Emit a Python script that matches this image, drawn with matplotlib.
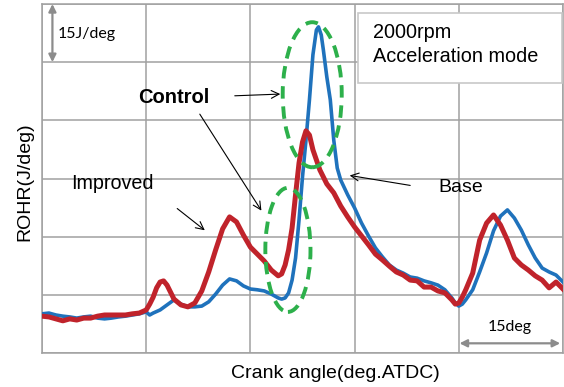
import matplotlib
matplotlib.use("Agg")
import matplotlib.pyplot as plt
from matplotlib.patches import Ellipse, FancyBboxPatch

plt.rcParams['font.family'] = ['Liberation Sans', 'DejaVu Sans']

# Rate of heat release traces (crank angle in deg ATDC, ROHR in J/deg)
improved_angle = [-30, -29, -28, -27, -26, -25, -24, -23, -22, -21, -20, -19, -18, -17, -16, -15,
                  -14.5, -14, -13.5, -13, -12.5, -12, -11.5, -11, -10, -9, -8, -7, -6, -5, -4, -3,
                  -2, -1, 0, 1, 2, 3, 4, 4.5, 5, 5.5, 6, 6.5, 7, 7.5, 8, 8.5, 9, 10, 11, 12, 13,
                  14, 15, 16, 17, 18, 19, 20, 21, 22, 23, 24, 25, 26, 27, 28, 29, 29.5, 30, 30.5,
                  31, 32, 33, 34, 35, 36, 37, 38, 39, 40, 41, 42, 43, 44, 45]
improved_rohr = [9.5, 9.3, 8.8, 8.3, 8.8, 8.5, 9.0, 9.0, 9.5, 9.8, 9.8, 9.8, 9.8, 10.1, 10.3, 11.1,
                 12.6, 14.4, 16.8, 18.3, 18.6, 17.5, 15.7, 13.9, 12.4, 11.9, 12.9, 16.0, 20.9, 26.6,
                 32.0, 35.1, 33.8, 30.4, 27.3, 25.5, 23.7, 21.4, 19.9, 20.4, 22.7, 26.6, 32.2, 40.8,
                 49.0, 54.4, 57.3, 56.2, 52.4, 47.2, 43.6, 41.3, 37.9, 35.1, 32.5, 30.2, 27.9, 25.5,
                 24.0, 22.4, 20.9, 20.1, 18.8, 18.6, 17.0, 17.0, 16.0, 15.5, 13.7, 12.6, 12.9, 14.4,
                 16.3, 20.6, 29.1, 33.5, 35.6, 33.0, 29.1, 24.5, 22.7, 21.4, 19.9, 18.8, 16.8, 18.3, 16.5]

base_angle = [-30, -29, -28, -27, -26, -25, -24, -23, -22, -21, -20, -19, -18, -17, -16, -15,
              -14.5, -14, -13, -12, -11, -10, -9, -8, -7, -6, -5, -4, -3, -2, -1, 0, 1, 2, 3, 4,
              4.5, 5, 5.5, 6, 6.5, 7, 7.5, 8, 8.5, 9, 9.5, 9.8, 10.2, 10.5, 11, 11.5, 12, 12.5,
              13, 14, 15, 16, 17, 18, 19, 20, 21, 22, 23, 24, 25, 26, 27, 28, 29, 29.5, 30, 30.5,
              31, 32, 33, 34, 35, 36, 37, 38, 39, 40, 41, 42, 43, 44, 45]
base_rohr = [10.1, 10.3, 9.8, 9.5, 9.3, 9.0, 9.3, 9.5, 9.0, 8.8, 9.0, 9.3, 9.5, 9.8, 10.1, 10.6,
             9.8, 10.3, 11.1, 12.4, 13.7, 12.6, 11.9, 11.9, 12.1, 13.2, 15.2, 17.5, 19.1, 18.6,
             17.3, 16.5, 16.3, 16.0, 15.2, 14.2, 13.9, 14.2, 15.5, 18.8, 24.5, 34.3, 45.4, 54.9,
             65.3, 76.9, 83.3, 84.1, 82.0, 78.2, 71.2, 65.3, 54.9, 47.7, 44.6, 40.8, 37.4, 33.5,
             30.2, 27.1, 24.8, 22.7, 21.4, 20.6, 19.6, 19.3, 18.6, 18.1, 17.5, 16.3, 14.2, 12.9,
             12.1, 12.6, 13.7, 16.3, 20.9, 25.8, 31.5, 35.3, 36.9, 34.8, 31.7, 27.9, 24.5, 21.9,
             20.9, 20.1, 18.3]

# Highlighted regions (centre angle, centre ROHR, width in deg, height in J/deg)
main_zone = (8.9, 66.6, 8.5, 37.4)
early_zone = (5.4, 26.6, 6.5, 32.0)

RED = '#C0232B'
BLUE = '#1F72BC'
GREEN = '#2DB04B'
GRID = '#A0A0A0'

fig = plt.figure(figsize=(5.64, 3.87), dpi=100)
ax = fig.add_axes([42 / 564, 34 / 387, 521 / 564, 349 / 387])
ax.set_xlim(-30, 45)
ax.set_ylim(0, 90)
ax.set_xticks(range(-30, 46, 15))
ax.set_yticks(range(0, 91, 15))
ax.tick_params(length=0, labelbottom=False, labelleft=False)
ax.grid(True, color=GRID, lw=1.1)
for s in ax.spines.values():
    s.set_color(GRID)
    s.set_linewidth(1.1)

ax.plot(base_angle, base_rohr, color=BLUE, lw=2.6, solid_joinstyle='round', zorder=3)
ax.plot(improved_angle, improved_rohr, color=RED, lw=3.6, solid_joinstyle='round', zorder=4)

for cx, cy, w, h in (main_zone, early_zone):
    ax.add_patch(Ellipse((cx, cy), w, h, fill=False, edgecolor=GREEN, lw=2.8,
                         linestyle=(0, (3.2, 2.0)), zorder=5))

arrow_kw = dict(arrowstyle='->', color='black', lw=0.8, mutation_scale=14)
ax.annotate('', xy=(4.7, 66.8), xytext=(-2.65, 66.3), arrowprops=arrow_kw, zorder=6)
ax.annotate('', xy=(1.8, 36.1), xytext=(-7.5, 62.2), arrowprops=arrow_kw, zorder=6)
ax.annotate('', xy=(-6.25, 31.2), xytext=(-10.85, 37.7), arrowprops=arrow_kw, zorder=6)
ax.annotate('', xy=(13.9, 45.9), xytext=(23.4, 43.1), arrowprops=arrow_kw, zorder=6)

ax.text(-11.1, 66.0, 'Control', fontsize=14.5, fontweight='bold', ha='center', va='center')
ax.text(-19.9, 43.6, 'Improved', fontsize=14.2, ha='center', va='center')
ax.text(30.3, 42.6, 'Base', fontsize=14, ha='center', va='center')

# Condition box in the upper right
box = FancyBboxPatch((358 / 564, 1 - 83 / 387), 204 / 564, 70 / 387, boxstyle='square,pad=0',
                     transform=fig.transFigure, facecolor='white', edgecolor='#C8C8C8', lw=1.2,
                     zorder=6)
fig.patches.append(box)
fig.text(373 / 564, 1 - 33 / 387, '2000rpm', fontsize=14.3, va='center', ha='left', zorder=7)
fig.text(373 / 564, 1 - 56 / 387, 'Acceleration mode', fontsize=14.3, va='center', ha='left',
         zorder=7)

# Scale markers
scale_kw = dict(arrowstyle='<|-|>', color='#8C8C8C', lw=1.6, mutation_scale=11,
                shrinkA=0, shrinkB=0)
ax.annotate('', xy=(-28.5, 90), xytext=(-28.5, 75), arrowprops=scale_kw)
ax.text(-27.7, 82.3, '15J/deg', fontsize=11.5, family=['Lato', 'DejaVu Sans'],
        ha='left', va='center')
ax.annotate('', xy=(30.1, 2.5), xytext=(44.6, 2.5), arrowprops=scale_kw)
ax.text(37.3, 6.7, '15deg', fontsize=11.5, family=['Lato', 'DejaVu Sans'],
        ha='center', va='center')

fig.text(335 / 564, 1 - 373 / 387, 'Crank angle(deg.ATDC)', fontsize=14,
         ha='center', va='center')
fig.text(25 / 564, 1 - 182 / 387, 'ROHR(J/deg)', fontsize=14, rotation=90,
         ha='center', va='center')

fig.savefig('out.png', dpi=100)
